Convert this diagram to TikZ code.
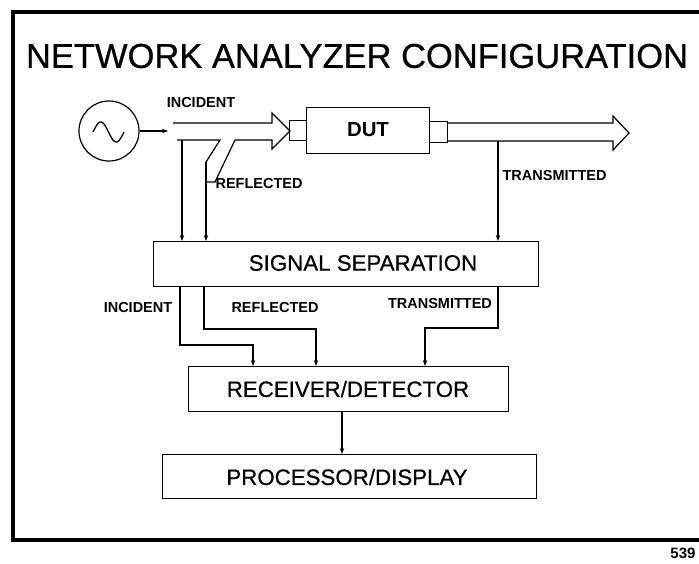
\documentclass[tikz,border=0pt]{standalone}
\usepackage{fontspec}
\setmainfont{Liberation Sans}
\newfontfamily\heavyfont[FakeBold=0.6]{Liberation Sans}
\usetikzlibrary{arrows.meta}
\begin{document}
\begin{tikzpicture}[x=1pt,y=-1pt,line width=1.2pt,line join=miter,
  box/.style={draw,rectangle,inner sep=0pt,anchor=north west},
  lbl/.style={font=\fontsize{14.5}{15}\selectfont\bfseries,inner sep=0pt},
  big/.style={font=\heavyfont\fontsize{22.3}{24}\selectfont,inner sep=0pt},
  tip/.style={-{Stealth[length=6pt,width=4.5pt]}}]
\useasboundingbox (0,0) rectangle (699,564);
% frame
\draw[line width=3.2pt] (699,12) -- (13,12) -- (13,540);
\draw[line width=4.2pt] (11.4,540) -- (699,540);
% title
\node[font=\heavyfont\fontsize{34.5}{36}\selectfont,inner sep=0pt] (title) at (357,56) {NETWORK ANALYZER CONFIGURATION};
% source
\node[draw,circle,minimum size=60pt,inner sep=0pt] (src) at (109,131) {};
\draw[line width=1.3pt] plot[domain=0:360,samples=50] ({93+\x/360*31},{132-10*sin(\x)});
\coordinate (srcend) at (168,131);
\draw[tip] (src.east) -- (srcend);
% incident hollow arrow with reflected branch
\coordinate (ia1) at (173,123);
\coordinate (ia2) at (272,123);
\coordinate (ia3) at (272,113);
\coordinate (ia4) at (290,131);
\coordinate (ia5) at (272,149);
\coordinate (ia6) at (272,140);
\coordinate (ia7) at (235,140);
\coordinate (ia8) at (215,182);
\coordinate (ia9) at (206,182);
\coordinate (ib1) at (177,140);
\coordinate (ib2) at (220,140);
\coordinate (ib3) at (206,162);
\draw (ia1) -- (ia2) -- (ia3) -- (ia4) -- (ia5) -- (ia6) -- (ia7) -- (ia8) -- (ia9);
\draw (ib1) -- (ib2) -- (ib3);
% DUT
\node[box,minimum width=17pt,minimum height=20pt] (c1) at (289,120) {};
\node[box,minimum width=123pt,minimum height=46pt] (dut) at (306,107) {};
\node[box,minimum width=18pt,minimum height=21pt] (c2) at (429,121) {};
\node[font=\fontsize{20.4}{22}\selectfont\bfseries,inner sep=0pt] (dutt) at (368,130) {DUT};
% transmitted hollow arrow
\coordinate (ta1) at (447,123);
\coordinate (ta2) at (613,123);
\coordinate (ta3) at (613,116);
\coordinate (ta4) at (629,133);
\coordinate (ta5) at (613,150);
\coordinate (ta6) at (613,141);
\coordinate (ta7) at (447,141);
\draw (ta1) -- (ta2) -- (ta3) -- (ta4) -- (ta5) -- (ta6) -- (ta7);
% labels top
\node[lbl] (linc) at (201,103) {INCIDENT};
\node[lbl,anchor=west] (lref) at (215,184) {REFLECTED};
\node[lbl,anchor=west] (ltra) at (502,176) {TRANSMITTED};
% signal separation
\node[box,minimum width=385pt,minimum height=45pt] (sep) at (153,241) {};
\node[big] (sept) at (363,263) {SIGNAL SEPARATION};
\coordinate (d1) at (182,140);
\coordinate (d2) at (206,162);
\coordinate (d3) at (498,141);
\draw[tip] (d1) -- (d1 |- sep.north);
\draw[tip] (d2) -- (d2 |- sep.north);
\draw[tip] (d3) -- (d3 |- sep.north);
% receiver
\node[box,minimum width=320pt,minimum height=45pt] (rx) at (188,366) {};
\node[big] (rxt) at (348,389) {RECEIVER/DETECTOR};
% connectors sep -> rx
\coordinate (e1) at (180,345);
\coordinate (e2) at (253,345);
\coordinate (f1) at (204,329);
\coordinate (f2) at (316,329);
\coordinate (g1) at (498,328);
\coordinate (g2) at (425,328);
\draw[tip] (e1 |- sep.south) -- (e1) -- (e2) -- (e2 |- rx.north);
\draw[tip] (f1 |- sep.south) -- (f1) -- (f2) -- (f2 |- rx.north);
\draw[tip] (g1 |- sep.south) -- (g1) -- (g2) -- (g2 |- rx.north);
\node[lbl] (binc) at (138,308) {INCIDENT};
\node[lbl] (bref) at (275,308) {REFLECTED};
\node[lbl] (btra) at (440,304) {TRANSMITTED};
% processor
\node[box,minimum width=374pt,minimum height=44pt] (proc) at (162,454) {};
\node[big] (proct) at (347,477) {PROCESSOR/DISPLAY};
\coordinate (h1) at (342,400);
\draw[tip] (h1 |- rx.south) -- (h1 |- proc.north);
% page number
\node[font=\fontsize{15}{16}\selectfont\bfseries,inner sep=0pt] (pg) at (683,553) {539};
\end{tikzpicture}
\end{document}
